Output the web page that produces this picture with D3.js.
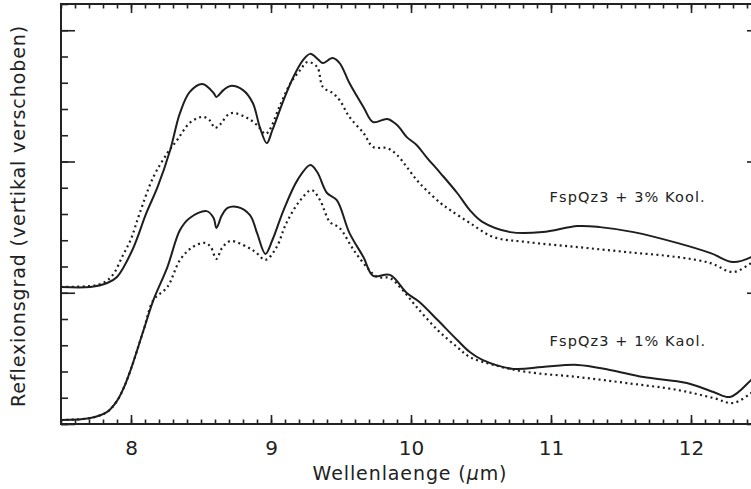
<!DOCTYPE html>
<html>
<head>
<meta charset="utf-8">
<script src="https://cdn.jsdelivr.net/npm/d3@7"></script>
<style>
  body { margin: 0; background: #fff; }
  text { font-family: "DejaVu Sans", sans-serif; fill: #222; }
</style>
</head>
<body>
<div id="chart"></div>
<script>
// spectra (wavelength in um, reflectance shifted, arbitrary units)
var wl3Solid = [7.50, 7.71, 7.83, 7.90, 8.01, 8.11, 8.19, 8.28, 8.35, 8.42, 8.51, 8.59, 8.61, 8.66, 8.71, 8.80, 8.87, 8.92, 8.97, 9.01, 9.09, 9.16, 9.23, 9.28, 9.34, 9.37, 9.44, 9.49, 9.56, 9.66, 9.73, 9.83, 9.90, 9.97, 10.04, 10.11, 10.21, 10.33, 10.42, 10.51, 10.71, 10.94, 11.19, 11.35, 11.59, 11.90, 12.14, 12.30, 12.43, 12.50];
var r3Solid  = [0.522, 0.522, 0.537, 0.560, 0.663, 0.804, 0.903, 1.044, 1.185, 1.265, 1.295, 1.261, 1.246, 1.272, 1.288, 1.272, 1.223, 1.131, 1.070, 1.120, 1.234, 1.322, 1.387, 1.410, 1.387, 1.375, 1.394, 1.375, 1.299, 1.208, 1.150, 1.162, 1.139, 1.093, 1.063, 1.017, 0.956, 0.880, 0.815, 0.770, 0.731, 0.731, 0.754, 0.750, 0.731, 0.690, 0.651, 0.617, 0.636, 0.663];

var wl3Dot = [7.50, 7.71, 7.80, 7.87, 7.94, 8.00, 8.06, 8.16, 8.26, 8.33, 8.42, 8.51, 8.56, 8.60, 8.64, 8.69, 8.73, 8.83, 8.90, 8.96, 8.99, 9.06, 9.14, 9.21, 9.26, 9.33, 9.37, 9.44, 9.49, 9.56, 9.66, 9.73, 9.83, 9.90, 9.97, 10.04, 10.11, 10.21, 10.28, 10.42, 10.59, 10.83, 11.19, 11.54, 11.90, 12.14, 12.30, 12.43, 12.50];
var r3Dot  = [0.522, 0.526, 0.537, 0.568, 0.640, 0.705, 0.800, 0.941, 1.032, 1.082, 1.147, 1.170, 1.158, 1.128, 1.143, 1.177, 1.185, 1.166, 1.139, 1.105, 1.120, 1.208, 1.299, 1.349, 1.379, 1.360, 1.284, 1.261, 1.234, 1.170, 1.109, 1.055, 1.051, 1.025, 0.979, 0.930, 0.891, 0.842, 0.815, 0.766, 0.712, 0.693, 0.674, 0.655, 0.636, 0.613, 0.579, 0.613, 0.640];

var wl1Solid = [7.50, 7.71, 7.83, 7.90, 7.95, 8.00, 8.09, 8.16, 8.26, 8.35, 8.42, 8.54, 8.59, 8.61, 8.65, 8.69, 8.76, 8.85, 8.90, 8.96, 9.01, 9.09, 9.19, 9.28, 9.33, 9.40, 9.47, 9.56, 9.66, 9.73, 9.85, 9.97, 10.06, 10.19, 10.33, 10.42, 10.51, 10.73, 10.94, 11.19, 11.42, 11.66, 11.97, 12.16, 12.28, 12.43, 12.50];
var r1Solid  = [0.015, 0.023, 0.046, 0.088, 0.140, 0.210, 0.358, 0.472, 0.598, 0.739, 0.785, 0.811, 0.785, 0.747, 0.796, 0.823, 0.827, 0.796, 0.728, 0.648, 0.701, 0.815, 0.930, 0.987, 0.960, 0.880, 0.853, 0.728, 0.636, 0.564, 0.568, 0.499, 0.465, 0.396, 0.320, 0.274, 0.244, 0.210, 0.217, 0.225, 0.206, 0.179, 0.156, 0.122, 0.103, 0.168, 0.206];

var wl1Dot = [7.50, 7.71, 7.83, 7.90, 7.95, 8.00, 8.09, 8.16, 8.26, 8.35, 8.44, 8.53, 8.57, 8.61, 8.65, 8.71, 8.83, 8.89, 8.96, 9.04, 9.11, 9.21, 9.29, 9.35, 9.42, 9.49, 9.59, 9.69, 9.76, 9.85, 9.94, 10.04, 10.19, 10.33, 10.42, 10.59, 10.83, 11.19, 11.54, 11.90, 12.16, 12.30, 12.43, 12.50];
var r1Dot  = [0.015, 0.023, 0.046, 0.088, 0.140, 0.210, 0.358, 0.472, 0.522, 0.625, 0.674, 0.690, 0.674, 0.629, 0.670, 0.697, 0.674, 0.655, 0.625, 0.674, 0.766, 0.853, 0.891, 0.853, 0.770, 0.747, 0.663, 0.594, 0.560, 0.556, 0.510, 0.446, 0.358, 0.293, 0.255, 0.225, 0.198, 0.179, 0.156, 0.130, 0.099, 0.080, 0.118, 0.150];

var xMajor = [8, 9, 10, 11, 12];
var sampleLabels = ["FspQz3 + 3% Kool.", "FspQz3 + 1% Kaol."];
var labelX = [10.99, 10.99];
var labelY = [0.846, 0.297];

// set the dimensions and margins of the graph
var margin = {top: 4, right: -10, bottom: 65, left: 61},
    width = 751 - margin.left - margin.right,
    height = 489 - margin.top - margin.bottom;

var svg = d3.select("#chart")
  .append("svg")
    .attr("width", 751)
    .attr("height", 489)
  .append("g")
    .attr("transform", "translate(" + margin.left + "," + margin.top + ")");

var x = d3.scaleLinear().domain([7.5, 12.5]).range([0, width]);
var y = d3.scaleLinear().domain([0, 1.6]).range([height, 0]);

svg.append("clipPath").attr("id", "plotclip")
  .append("rect").attr("width", width).attr("height", height);

// minor and major ticks, all pointing inward
var xMinor = d3.range(75, 126).map(function(d) { return d / 10; });
var yMinor = d3.range(0, 17).map(function(d) { return d / 10; });
var yMajor = [0, 0.5, 1.0, 1.5];

function tickLines(g) { g.select(".domain").remove(); g.selectAll("line").attr("stroke", "#222").attr("stroke-width", 1.6); }

svg.append("g").attr("transform", "translate(0," + height + ")")
  .call(d3.axisBottom(x).tickValues(xMinor).tickSize(-4.5).tickFormat(""))
  .call(tickLines);
svg.append("g").attr("transform", "translate(0," + height + ")")
  .call(d3.axisBottom(x).tickValues(xMajor).tickSize(-9).tickPadding(16.5).tickFormat(d3.format("d")))
  .call(tickLines)
  .selectAll("text").style("font-size", "20px").attr("fill", "#222");
svg.append("g")
  .call(d3.axisTop(x).tickValues(xMinor).tickSize(-4.5).tickFormat(""))
  .call(tickLines);
svg.append("g")
  .call(d3.axisTop(x).tickValues(xMajor).tickSize(-9).tickFormat(""))
  .call(tickLines);

svg.append("g")
  .call(d3.axisLeft(y).tickValues(yMinor).tickSize(-7).tickFormat(""))
  .call(tickLines);
svg.append("g")
  .call(d3.axisLeft(y).tickValues(yMajor).tickSize(-14).tickFormat(""))
  .call(tickLines);
svg.append("g").attr("transform", "translate(" + width + ",0)")
  .call(d3.axisRight(y).tickValues(yMinor).tickSize(-7).tickFormat(""))
  .call(tickLines);
svg.append("g").attr("transform", "translate(" + width + ",0)")
  .call(d3.axisRight(y).tickValues(yMajor).tickSize(-14).tickFormat(""))
  .call(tickLines);

// frame
svg.append("rect")
  .attr("width", width).attr("height", height)
  .attr("fill", "none").attr("stroke", "#222").attr("stroke-width", 2);

// curves
var line = d3.line()
  .x(function(d) { return x(d[0]); })
  .y(function(d) { return y(d[1]); })
  .curve(d3.curveCatmullRom.alpha(0.5));

var series = [
  {wl: wl3Solid, r: r3Solid, dotted: false},
  {wl: wl3Dot,   r: r3Dot,   dotted: true},
  {wl: wl1Solid, r: r1Solid, dotted: false},
  {wl: wl1Dot,   r: r1Dot,   dotted: true}
];

var curves = svg.append("g").attr("clip-path", "url(#plotclip)");
series.forEach(function(s) {
  var pts = s.wl.map(function(w, i) { return [w, s.r[i]]; });
  curves.append("path")
    .datum(pts)
    .attr("d", line)
    .attr("fill", "none")
    .attr("stroke", "#1e1e1e")
    .attr("stroke-width", s.dotted ? 2.2 : 2)
    .attr("stroke-dasharray", s.dotted ? "2,3.4" : null);
});

// sample labels
svg.selectAll(".samplelabel")
  .data(sampleLabels)
  .enter().append("text")
    .attr("class", "samplelabel")
    .attr("x", function(d, i) { return x(labelX[i]); })
    .attr("y", function(d, i) { return y(labelY[i]); })
    .style("font-size", "14.5px")
    .style("letter-spacing", "1.1px")
    .text(function(d) { return d; });

// axis labels
var xl = svg.append("text")
  .attr("text-anchor", "middle")
  .attr("x", 410 - margin.left)
  .attr("y", 480 - margin.top)
  .style("font-size", "19px")
  .style("letter-spacing", "0.9px");
xl.append("tspan").text("Wellenlaenge (");
xl.append("tspan").style("font-style", "italic").text("\u03bc");
xl.append("tspan").text("m)");

svg.append("text")
  .attr("text-anchor", "middle")
  .attr("transform", "rotate(-90)")
  .attr("x", -(216 - margin.top))
  .attr("y", 25 - margin.left)
  .style("font-size", "19px")
  .style("letter-spacing", "0.9px")
  .text("Reflexionsgrad (vertikal verschoben)");
</script>
</body>
</html>
